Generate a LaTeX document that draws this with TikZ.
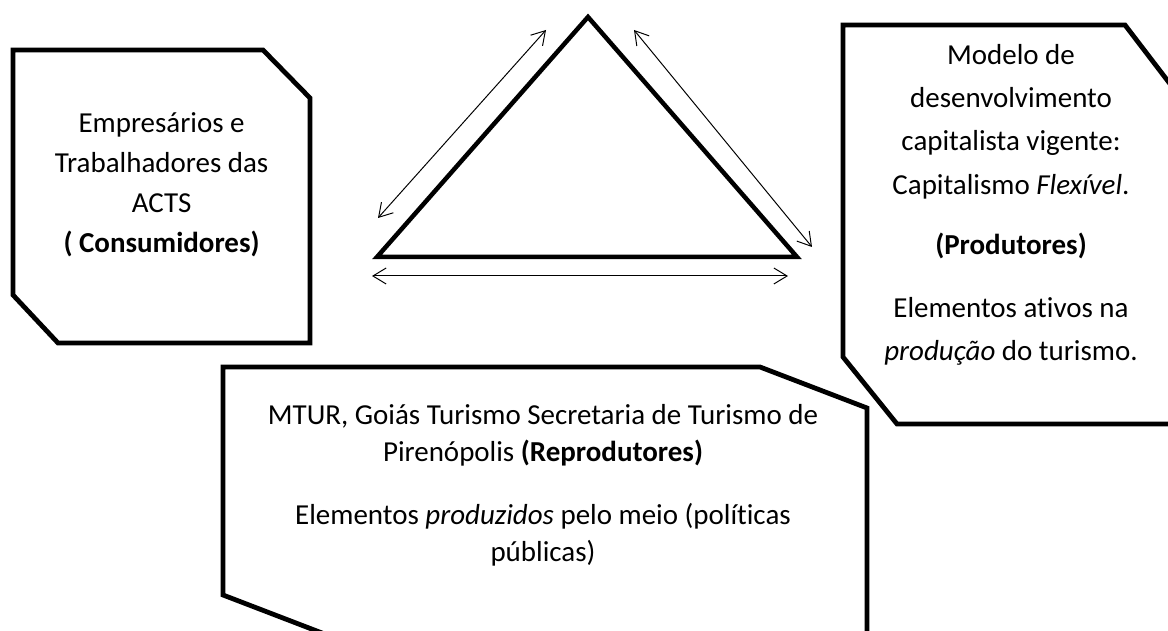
\documentclass[tikz,border=0pt]{standalone}
\usepackage{fontspec}
\setmainfont[Ligatures=NoCommon]{Carlito}
\usetikzlibrary{arrows.meta}

\begin{document}
\begin{tikzpicture}[every node/.style={font=\fontsize{20.6}{28.5}\selectfont, align=center, inner sep=0pt},
	>={Straight Barb[length=3.3mm,width=4mm]},
	boxline/.style={line width=3.4pt, line join=miter},
	twoway/.style={<->, line width=0.7pt}]
	\useasboundingbox (0,0) rectangle (29.2,15.775);
	% left box
	\draw[boxline] (0.325,14.525) -- (6.575,14.525) -- (7.75,13.325) -- (7.75,7.2) -- (1.45,7.2) -- (0.325,8.4) -- cycle;
	\node (cons) at (4.04,11.15) {Empresários e\\ Trabalhadores das\\ ACTS\\ \textbf{( Consumidores)}};
	% right box
	\draw[boxline] (21.075,15.15) -- (28.125,15.15) -- (29.75,13.025) -- (29.75,5.175) -- (22.425,5.175) -- (21.075,6.85) -- cycle;
	\node[font=\fontsize{20.6}{30.8}\selectfont] (prod) at (25.275,10.65) {Modelo de\\ desenvolvimento\\ capitalista vigente:\\ Capitalismo \textit{Flexível}.\\[0.42cm] \textbf{(Produtores)}\\[0.5cm] Elementos ativos na\\ \textit{produção} do turismo.};
	% bottom box
	\draw[boxline] (10.525,-1) -- (5.575,0.9) -- (5.575,6.6) -- (19,6.6) -- (21.675,5.575) -- (21.675,-1);
	\node[font=\fontsize{20.6}{26.3}\selectfont] (repr) at (13.575,3.65) {MTUR, Goiás Turismo Secretaria de Turismo de\\ Pirenópolis \textbf{(Reprodutores)}\\[0.65cm] Elementos \textit{produzidos} pelo meio (políticas\\ públicas)};
	% triangle
	\coordinate (top) at (14.7,15.35);
	\coordinate (bl) at (9.425,9.35);
	\coordinate (br) at (19.925,9.35);
	\draw[line width=3.2pt, line join=miter] (bl) -- (top) -- (br) -- cycle;
	% double arrows along the sides
	\coordinate (l1) at (9.45,10.325);
	\coordinate (l2) at (13.65,15.025);
	\coordinate (r1) at (15.85,15.025);
	\coordinate (r2) at (20.3,9.6);
	\coordinate (b1) at (9.3,8.875);
	\coordinate (b2) at (19.7,8.875);
	\draw[twoway] (l1) -- (l2);
	\draw[twoway] (r1) -- (r2);
	\draw[twoway] (b1) -- (b2);
\end{tikzpicture}
\end{document}
